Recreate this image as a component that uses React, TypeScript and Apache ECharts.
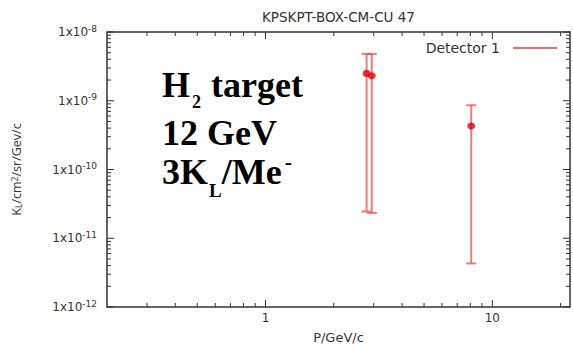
import React, { useEffect, useRef } from "react";
import * as echarts from "echarts";

// ---- data ----
const momentum = [2.79, 2.94, 8.07]; // P [GeV/c]
const flux = [2.5e-9, 2.31e-9, 4.3e-10];
const fluxLow = [2.45e-11, 2.33e-11, 4.3e-12];
const fluxHigh = [4.8e-9, 4.8e-9, 8.6e-10];

const seriesName = "Detector 1";
const chartTitle = "KPSKPT-BOX-CM-CU 47";

// axis ranges & ticks
const X_MIN = 0.2;
const X_MAX = 22;
const Y_MIN = 1e-12;
const Y_MAX = 1e-8;
const xMajorTicks = [1, 10];
const xMinorTicks = [0.3, 0.4, 0.5, 0.6, 0.7, 0.8, 0.9, 2, 3, 4, 5, 6, 7, 8, 9, 20];
const yMajorTicks = [1e-12, 1e-11, 1e-10, 1e-9, 1e-8];
const yMinorMantissas = [2, 3, 4, 5, 6, 7, 8, 9];
const yMinorDecades = [-12, -11, -10, -9];

// annotation lines
const noteLines = ["H{sb2|2} target", "12 GeV", "3K{sbL|L}/Me{sp|-}"];

export default function App() {
  const ref = useRef<HTMLDivElement>(null);

  useEffect(() => {
    if (!ref.current) return;
    const chart = echarts.init(ref.current, null, { renderer: "svg" });

    const yMinorTicks: number[] = [];
    yMinorDecades.forEach((d) =>
      yMinorMantissas.forEach((m) => yMinorTicks.push(Number((m * Math.pow(10, d)).toPrecision(3))))
    );

    const tickData: number[][] = [];
    xMajorTicks.forEach((v) => tickData.push([v, Y_MIN, 0, 1]));
    xMinorTicks.forEach((v) => tickData.push([v, Y_MIN, 0, 0]));
    yMajorTicks.forEach((v) => tickData.push([X_MIN, v, 1, 1]));
    yMinorTicks.forEach((v) => tickData.push([X_MIN, v, 1, 0]));

    const errData = momentum.map((x, i) => [x, fluxLow[i], fluxHigh[i]]);
    const pointData = momentum.map((x, i) => [x, flux[i]]);

    const gnuFont = "DejaVu Sans";
    const serif = "Liberation Serif";
    const noteStyle = (text: string) => ({
      text,
      fontSize: 36,
      fontFamily: serif,
      fontWeight: "bold",
      fill: "#000",
      lineHeight: 36,
      textAlign: "left",
      textVerticalAlign: "middle",
      align: "left",
      verticalAlign: "middle",
      rich: {
        sb2: { fontSize: 18, fontFamily: serif, fontWeight: "bold", fill: "#000", color: "#000", lineHeight: 18, padding: [34, 1, 0, 2] },
        sbL: { fontSize: 19, fontFamily: serif, fontWeight: "bold", fill: "#000", color: "#000", lineHeight: 19, padding: [36, 0, 0, 1] },
        sp: { fontSize: 22, fontFamily: serif, fontWeight: "bold", fill: "#000", color: "#000", lineHeight: 20, padding: [0, 0, 22, 3] },
      },
    });

    const option: any = {
      animation: false,
      backgroundColor: "#fff",
      title: {
        text: chartTitle,
        left: 257,
        top: 5,
        textStyle: { fontSize: 13.5, fontWeight: "normal", fontFamily: gnuFont, color: "#333" },
      },
      legend: {
        data: [{ name: seriesName, icon: "rect", itemStyle: { color: "#f07070" } }],
        right: 11,
        top: 36,
        align: "right",
        itemWidth: 44,
        itemHeight: 2,
        selectedMode: false,
        textStyle: { fontSize: 14, fontFamily: gnuFont, color: "#333", padding: [0, 8, 0, 0] },
      },
      grid: {
        left: 107,
        right: 3,
        top: 32,
        bottom: 37,
        outerBoundsMode: "none",
        containLabel: false,
        show: true,
        borderColor: "#333",
        borderWidth: 1.5,
        backgroundColor: "transparent",
      },
      xAxis: {
        type: "log",
        logBase: 10,
        min: X_MIN,
        max: X_MAX,
        name: "P/GeV/c",
        nameLocation: "middle",
        nameGap: 24,
        nameTextStyle: { fontSize: 13, fontFamily: gnuFont, color: "#333" },
        axisLine: { show: false },
        axisTick: { show: false },
        splitLine: { show: false },
        axisLabel: {
          margin: 5,
          fontSize: 12,
          fontFamily: gnuFont,
          color: "#333",
          formatter: (v: number) => {
            const e = Math.log10(v);
            if (Math.abs(e - Math.round(e)) > 1e-6) return "";
            return String(Math.pow(10, Math.round(e)));
          },
        },
      },
      yAxis: {
        type: "log",
        logBase: 10,
        min: Y_MIN,
        max: Y_MAX,
        name: "K{sub|L}/cm{sup|2}/sr/Gev/c",
        nameLocation: "middle",
        nameGap: 84,
        nameRotate: 90,
        nameTextStyle: {
          fontSize: 12.5,
          fontFamily: "Open Sans",
          color: "#333",
          rich: {
            sub: { fontSize: 8.5, fontFamily: "Open Sans", color: "#333", verticalAlign: "bottom", lineHeight: 8 },
            sup: { fontSize: 8.5, fontFamily: "Open Sans", color: "#333", verticalAlign: "top", lineHeight: 8 },
          },
        },
        axisLine: { show: false },
        axisTick: { show: false },
        splitLine: { show: false },
        axisLabel: {
          margin: 10,
          formatter: (v: number) => {
            const e = Math.round(Math.log10(v));
            return "{a|1x10}{s|" + e + "}";
          },
          rich: {
            a: { fontSize: 12, fontFamily: gnuFont, color: "#333", lineHeight: 16 },
            s: { fontSize: 9, fontFamily: gnuFont, color: "#333", verticalAlign: "top", lineHeight: 9 },
          },
        },
      },
      graphic: [
        { type: "text", x: 162, y: 85, style: noteStyle(noteLines[0]) },
        { type: "text", x: 162, y: 133, style: noteStyle(noteLines[1]) },
        { type: "text", x: 162, y: 172, style: noteStyle(noteLines[2]) },
      ],
      series: [
        {
          type: "custom",
          name: "ticks",
          silent: true,
          data: tickData,
          encode: { x: 0, y: 1 },
          renderItem: (params: any, api: any) => {
            const kind = api.value(2);
            const len = api.value(3) ? 7 : 4;
            const st = { stroke: "#333", lineWidth: 1 };
            if (kind === 0) {
              const v = api.value(0);
              const b = api.coord([v, Y_MIN]);
              const t = api.coord([v, Y_MAX]);
              return {
                type: "group",
                children: [
                  { type: "line", shape: { x1: b[0], y1: b[1], x2: b[0], y2: b[1] - len }, style: st },
                  { type: "line", shape: { x1: t[0], y1: t[1], x2: t[0], y2: t[1] + len }, style: st },
                ],
              };
            }
            const v = api.value(1);
            const l = api.coord([X_MIN, v]);
            const r = api.coord([X_MAX, v]);
            return {
              type: "group",
              children: [
                { type: "line", shape: { x1: l[0], y1: l[1], x2: l[0] + len, y2: l[1] }, style: st },
                { type: "line", shape: { x1: r[0], y1: r[1], x2: r[0] - len, y2: r[1] }, style: st },
              ],
            };
          },
          z: 1,
        },
        {
          type: "custom",
          name: seriesName,
          data: errData,
          encode: { x: 0, y: [1, 2] },
          itemStyle: { color: "#f07070" },
          renderItem: (params: any, api: any) => {
            const x = api.value(0);
            const lo = api.coord([x, api.value(1)]);
            const hi = api.coord([x, api.value(2)]);
            const cap = 5;
            const st = { stroke: "rgba(236, 80, 80, 0.75)", lineWidth: 2 };
            return {
              type: "group",
              children: [
                { type: "line", shape: { x1: hi[0], y1: hi[1], x2: lo[0], y2: lo[1] }, style: st },
                { type: "line", shape: { x1: hi[0] - cap, y1: hi[1], x2: hi[0] + cap, y2: hi[1] }, style: st },
                { type: "line", shape: { x1: lo[0] - cap, y1: lo[1], x2: lo[0] + cap, y2: lo[1] }, style: st },
              ],
            };
          },
          z: 2,
        },
        {
          type: "scatter",
          name: seriesName,
          data: pointData,
          symbol: "circle",
          symbolSize: [8, 7],
          itemStyle: { color: "#e80000" },
          z: 3,
        },
      ],
    };

    chart.setOption(option);
    return () => chart.dispose();
  }, []);

  return (
    <div
      ref={ref}
      style={{ position: "fixed", left: 0, top: 0, width: 573, height: 344, background: "#fff" }}
    />
  );
}
